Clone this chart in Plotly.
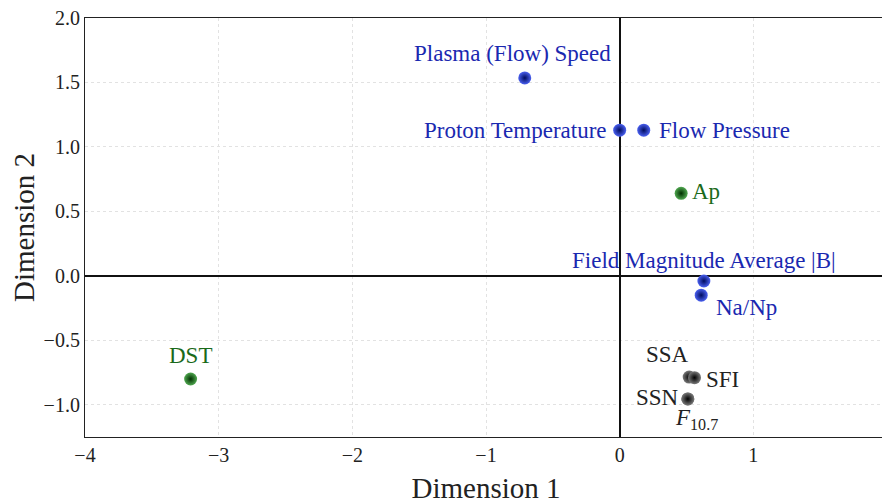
import plotly.graph_objects as go

# Data
labels = ["Plasma (Flow) Speed", "Proton Temperature", "Flow Pressure",
          "Field Magnitude Average |B|", "Na/Np",
          "Ap", "DST",
          "SSA", "SFI", "SSN", "F10.7"]
dim1 = [-0.71, 0.00, 0.18, 0.63, 0.61, 0.46, -3.21, 0.52, 0.56, 0.51, 0.51]
dim2 = [1.535, 1.13, 1.13, -0.04, -0.15, 0.64, -0.80, -0.785, -0.79, -0.955, -0.955]
group = ["solar wind"] * 5 + ["geomagnetic"] * 2 + ["solar"] * 4

x_ticks = [-4, -3, -2, -1, 0, 1, 2]
y_ticks = [-1.0, -0.5, 0.0, 0.5, 1.0, 1.5, 2.0]

text_colors = {"solar wind": "#1a28b0", "geomagnetic": "#1a6a1a", "solar": "#222222"}
edge = {"solar wind": "#000c60", "geomagnetic": "#003000", "solar": "#000000"}
center = {"solar wind": "#4a60f0", "geomagnetic": "#50a850", "solar": "#7a7a7a"}

# label placement (xanchor, yanchor, xshift, yshift)
place = {
    "Plasma (Flow) Speed": ("center", "bottom", -12, 10),
    "Proton Temperature": ("right", "middle", -11, 0),
    "Flow Pressure": ("left", "middle", 13, 0),
    "Field Magnitude Average |B|": ("center", "bottom", 0, 6),
    "Na/Np": ("left", "top", 13, 2),
    "Ap": ("left", "middle", 9, 2),
    "DST": ("center", "bottom", 0, 9),
    "SSA": ("right", "bottom", 2, 8),
    "SFI": ("left", "middle", 9, -2),
    "SSN": ("right", "middle", -7, 1),
    "F10.7": ("left", "top", -15, -4),
}

fig = go.Figure()
for g in ["solar wind", "geomagnetic", "solar"]:
    idx = [i for i, gg in enumerate(group) if gg == g]
    fig.add_trace(go.Scatter(
        x=[dim1[i] for i in idx], y=[dim2[i] for i in idx], mode="markers",
        marker=dict(size=13, color=center[g],
                    gradient=dict(type="radial", color=edge[g]),
                    line=dict(width=0)),
        showlegend=False, hoverinfo="skip"))

annotations = []
for i, lab in enumerate(labels):
    xa, ya, xs, ys = place[lab]
    txt = "<i>F</i><sub>10.7</sub>" if lab == "F10.7" else lab
    annotations.append(dict(x=dim1[i], y=dim2[i], xref="x", yref="y", text=txt,
                            showarrow=False, xanchor=xa, yanchor=ya,
                            xshift=xs, yshift=ys,
                            font=dict(family="Liberation Serif", size=23,
                                      color=text_colors[group[i]])))

fig.update_layout(
    width=882, height=496,
    margin=dict(l=77, r=3, t=10, b=67),
    paper_bgcolor="white", plot_bgcolor="white",
    font=dict(family="Liberation Serif", size=20, color="#222"),
    annotations=annotations,
    xaxis=dict(range=[-4, 2], tickvals=x_ticks,
               ticktext=["\u22124", "\u22123", "\u22122", "\u22121", "0", "1", "2"],
               showgrid=True, gridcolor="#e2e2e2", griddash="dot", gridwidth=1,
               zeroline=True, zerolinecolor="#111", zerolinewidth=1.5,
               showline=True, linecolor="#222", linewidth=1.2, mirror=True,
               ticks="", automargin=False, ticklabeloverflow="allow",
               title=dict(text="Dimension 1", font=dict(size=29), standoff=16),
               tickfont=dict(size=20)),
    yaxis=dict(range=[-1.25, 2.0], tickvals=y_ticks,
               ticktext=["\u22121.0", "\u22120.5", "0.0", "0.5", "1.0", "1.5", "2.0"],
               showgrid=True, gridcolor="#e2e2e2", griddash="dot", gridwidth=1,
               zeroline=True, zerolinecolor="#111", zerolinewidth=1.5,
               showline=True, linecolor="#222", linewidth=1.2, mirror=True,
               ticks="", automargin=False, ticklabeloverflow="allow",
               title=dict(text="Dimension 2", font=dict(size=29), standoff=8),
               tickfont=dict(size=20)),
)

fig.write_html("out.html")
